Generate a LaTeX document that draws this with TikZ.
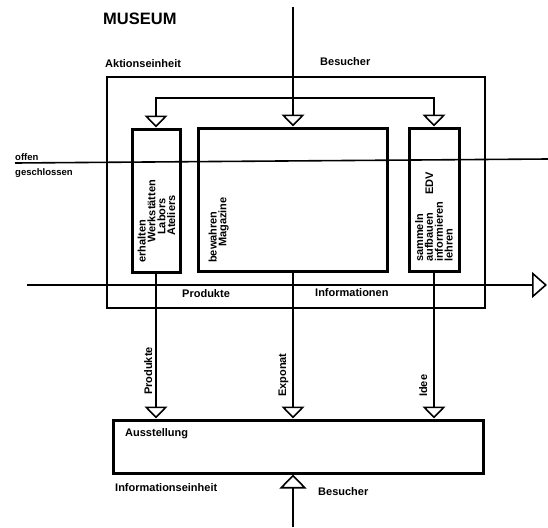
\documentclass[tikz,border=0pt]{standalone}
\usepackage{fontspec}
\setmainfont{Liberation Sans}
\usetikzlibrary{arrows.meta}

\begin{document}
\begin{tikzpicture}[
    x=1pt, y=-1pt,
    font=\bfseries\fontsize{11}{9.8}\selectfont,
    unit/.style={draw, line width=3pt, inner sep=0pt},
    frame/.style={draw, line width=1.6pt, inner sep=0pt},
    lbl/.style={inner sep=0pt, anchor=base west},
    small/.style={lbl, font=\bfseries\fontsize{9.5}{9.5}\selectfont},
    vlbl/.style={inner sep=0pt, anchor=base west, rotate=90},
    boxtext/.style={inner sep=0pt, anchor=north west, rotate=90, align=left},
    line/.style={line width=1.6pt},
    flow/.style={line width=1.6pt, -{Triangle[open, length=12pt, width=23pt]}},
    bigflow/.style={line width=1.6pt, -{Triangle[open, length=15pt, width=26pt]}}
]
\useasboundingbox (0,0) rectangle (548,527);

% Titles and outer labels
\node[lbl, font=\bfseries\fontsize{16.5}{16.5}\selectfont] (museum) at (103,25) {MUSEUM};
\node[lbl] (aktlbl) at (105,67.5) {Aktionseinheit};
\node[lbl] (besoben) at (320,65) {Besucher};
\node[small] (offen) at (15,160.5) {offen};
\node[small] (geschl) at (15,175) {geschlossen};

% Aktionseinheit frame and units
\node[frame, minimum width=378pt, minimum height=231pt] (aktion) at (296,192.5) {};
\node[unit, minimum width=48pt, minimum height=143pt] (werk) at (156,200.5) {};
\node[unit, minimum width=189pt, minimum height=143pt] (mag) at (293,199.5) {};
\node[unit, minimum width=50pt, minimum height=143pt] (edv) at (434,199.5) {};
\node[unit, minimum width=370pt, minimum height=53pt] (aus) at (298,446.5) {};

% Texts in the units
\node[boxtext] (werktxt) at (137.5,263) {erhalten\\\hspace*{20pt}Werkstätten\\\hspace*{28pt}Labors\\\hspace*{27pt}Ateliers};
\node[boxtext] (magtxt) at (208.5,263) {bewahren\\\hspace*{16pt}Magazine};
\node[boxtext] (edvtxt) at (415,262) {sammeln\\aufbauen\\informieren\\lehren};
\node[vlbl] (edvlbl) at (433,195) {EDV};
\node[lbl] (produkte) at (182,297) {Produkte};
\node[lbl] (infos) at (315,296.5) {Informationen};
\node[lbl] (auslbl) at (125,436.5) {Ausstellung};
\node[lbl] (infolbl) at (115,491.5) {Informationseinheit};
\node[lbl] (besunten) at (318,495) {Besucher};

% Free ends
\coordinate (top) at (293,7);
\coordinate (split) at (293,98);
\coordinate (offenL) at (15,163);
\coordinate (offenR) at (548,159);
\coordinate (flowL) at (27,285);
\coordinate (flowR) at (547,285);
\coordinate (bot) at (293,527);

% Besucher into the units
\draw[flow] (top) -- (mag);
\draw[flow] (split) -| (werk);
\draw[flow] (split) -| (edv);

% offen / geschlossen
\draw[line] (offenL) -- (offenR);

% Produkte / Informationen
\draw[bigflow] (flowL) -- (flowR);

% Into the Ausstellung
\draw[flow] (werk) -- (werk |- aus.north);
\draw[flow] (mag) -- (mag |- aus.north);
\draw[flow] (edv) -- (edv |- aus.north);
\node[vlbl] (prodlbl) at (152,395) {Produkte};
\node[vlbl] (expolbl) at (286,397) {Exponat};
\node[vlbl] (ideelbl) at (427,397) {Idee};

% Besucher from below
\draw[line, -{Triangle[open, length=14pt, width=27pt]}] (bot) -- (bot |- aus.south);

\end{tikzpicture}
\end{document}
